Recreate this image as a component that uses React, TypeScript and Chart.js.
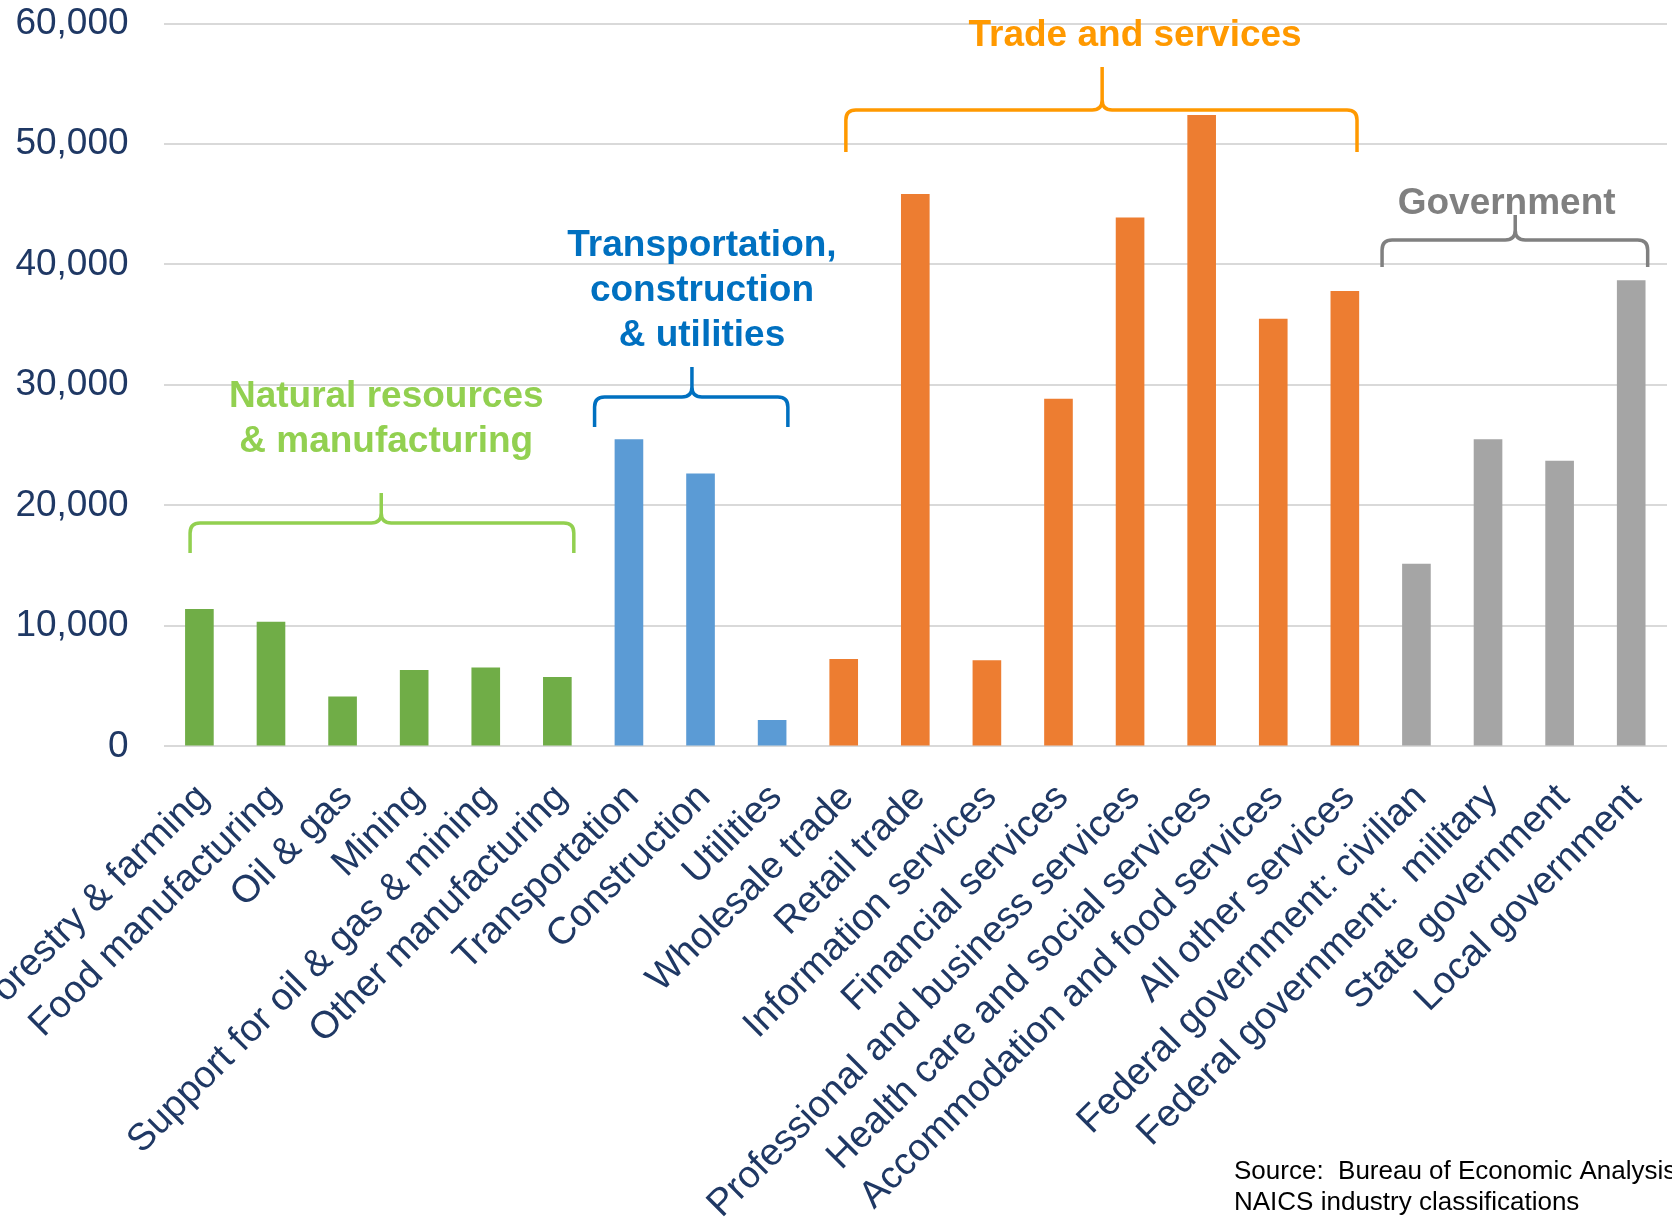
import React, { useEffect, useRef } from 'react';
import { Chart, registerables } from 'chart.js';

Chart.register(...registerables);

// ---------- data ----------
const categories: string[] = [
  'Forestry & farming',
  'Food manufacturing',
  'Oil & gas',
  'Mining',
  'Support for oil & gas & mining',
  'Other manufacturing',
  'Transportation',
  'Construction',
  'Utilities',
  'Wholesale trade',
  'Retail trade',
  'Information services',
  'Financial services',
  'Professional and business services',
  'Health care and social services',
  'Accommodation and food services',
  'All other services',
  'Federal government: civilian',
  'Federal government:  military',
  'State government',
  'Local government',
];

const values: number[] = [
  11400, 10350, 4150, 6350, 6550, 5750,
  25500, 22650, 2200,
  7250, 45850, 7150, 28850, 43900, 52400, 35500, 37800,
  15150, 25500, 23700, 38700,
];

const categoryGroup: string[] = [
  'nat', 'nat', 'nat', 'nat', 'nat', 'nat',
  'tcu', 'tcu', 'tcu',
  'trade', 'trade', 'trade', 'trade', 'trade', 'trade', 'trade', 'trade',
  'gov', 'gov', 'gov', 'gov',
];

const yTickValues: number[] = [0, 10000, 20000, 30000, 40000, 50000, 60000];

const groupKeys: string[] = ['nat', 'tcu', 'trade', 'gov'];
const groupTitles: string[][] = [
  ['Natural resources', '& manufacturing'],
  ['Transportation,', 'construction', '& utilities'],
  ['Trade and services'],
  ['Government'],
];

const sourceLines: string[] = [
  'Source:  Bureau of Economic Analysis',
  'NAICS industry classifications',
];

// ---------- styles ----------
const barColors: Record<string, string> = {
  nat: '#70AD47',
  tcu: '#5B9BD5',
  trade: '#ED7D31',
  gov: '#A5A5A5',
};
const titleColors: Record<string, string> = {
  nat: '#92D050',
  tcu: '#0070C0',
  trade: '#FF9900',
  gov: '#808080',
};

// brace geometry: x in category-index units, y in value units
const braceLayout: Record<string, { from: number; to: number; peak: number; level: number; end: number; top: number; textAt: number; textValue: number }> = {
  nat: { from: -0.13, to: 5.23, peak: 2.54, level: 18540, end: 16050, top: 21040, textAt: 2.61, textValue: 28150 },
  tcu: { from: 5.52, to: 8.22, peak: 6.88, level: 29000, end: 26510, top: 31490, textAt: 7.02, textValue: 40700 },
  trade: { from: 9.03, to: 16.17, peak: 12.61, level: 52820, end: 49330, top: 56390, textAt: 13.07, textValue: 58130 },
  gov: { from: 16.52, to: 20.23, peak: 18.38, level: 42030, end: 39790, top: 44110, textAt: 18.26, textValue: 44190 },
};

const FONT = "'Liberation Sans', Arial, Helvetica, sans-serif";
const W = 1672;
const H = 1218;

const bracePlugin = {
  id: 'groupBraces',
  afterDraw(chart: any) {
    const { ctx } = chart;
    const x = chart.scales.x;
    const y = chart.scales.y;
    ctx.save();
    groupKeys.forEach((key, gi) => {
      const b = braceLayout[key];
      const color = titleColors[key];
      const x1 = x.getPixelForValue(b.from);
      const x2 = x.getPixelForValue(b.to);
      const xm = x.getPixelForValue(b.peak);
      const yh = y.getPixelForValue(b.level);
      const ye = y.getPixelForValue(b.end);
      const yp = y.getPixelForValue(b.top);
      const r = 10;
      ctx.strokeStyle = color;
      ctx.lineWidth = 3.5;
      ctx.lineCap = 'butt';
      ctx.lineJoin = 'round';
      ctx.beginPath();
      ctx.moveTo(x1, ye);
      ctx.lineTo(x1, yh + r);
      ctx.quadraticCurveTo(x1, yh, x1 + r, yh);
      ctx.lineTo(xm - r, yh);
      ctx.quadraticCurveTo(xm, yh, xm, yh - r);
      ctx.lineTo(xm, yp);
      ctx.moveTo(xm, yh - r);
      ctx.quadraticCurveTo(xm, yh, xm + r, yh);
      ctx.lineTo(x2 - r, yh);
      ctx.quadraticCurveTo(x2, yh, x2, yh + r);
      ctx.lineTo(x2, ye);
      ctx.stroke();

      ctx.fillStyle = color;
      ctx.font = `bold 37px ${FONT}`;
      ctx.textAlign = 'center';
      ctx.textBaseline = 'alphabetic';
      const tx = x.getPixelForValue(b.textAt);
      const ty = y.getPixelForValue(b.textValue);
      groupTitles[gi].forEach((line, li) => {
        ctx.fillText(line, tx, ty + li * 45);
      });
    });

    ctx.fillStyle = '#000000';
    ctx.font = `26px ${FONT}`;
    ctx.textAlign = 'left';
    ctx.textBaseline = 'alphabetic';
    ctx.fillText(sourceLines[0], 1234, 1179);
    ctx.fillText(sourceLines[1], 1234, 1210);
    ctx.restore();
  },
};

export default function App() {
  const canvasRef = useRef<HTMLCanvasElement | null>(null);

  useEffect(() => {
    if (!canvasRef.current) return;
    const chart = new Chart(canvasRef.current, {
      type: 'bar',
      data: {
        labels: categories,
        datasets: [
          {
            data: values,
            backgroundColor: categoryGroup.map((g) => barColors[g]),
            borderWidth: 0,
            categoryPercentage: 1,
            barPercentage: 0.4,
          },
        ],
      },
      options: {
        animation: false,
        responsive: false,
        devicePixelRatio: 1,
        layout: { padding: { top: 23.5, right: 5, left: 0, bottom: 0 } },
        plugins: {
          legend: { display: false },
          tooltip: { enabled: false },
        },
        scales: {
          x: {
            grid: { display: false, drawTicks: false },
            border: { display: false },
            ticks: {
              autoSkip: false,
              minRotation: 45,
              maxRotation: 45,
              padding: 29,
              labelOffset: 4,
              color: '#1F3864',
              font: { family: FONT, size: 38 },
            },
            afterFit: (s: any) => {
              s.paddingLeft = 0;
              s.paddingRight = 0;
              s.height = H - 746.4;
            },
          },
          y: {
            min: 0,
            max: 60000,
            border: { display: false },
            grid: { color: '#D9D9D9', lineWidth: 2, drawTicks: false },
            ticks: {
              padding: 35,
              color: '#1F3864',
              font: { family: FONT, size: 37 },
              callback: (v: any) => Number(v).toLocaleString('en-US'),
            },
            afterBuildTicks: (s: any) => {
              s.ticks = yTickValues.map((v) => ({ value: v }));
            },
            afterFit: (s: any) => {
              s.width = 163.6;
              s.paddingTop = 0;
              s.paddingBottom = 0;
            },
          },
        },
      },
      plugins: [bracePlugin],
    });
    return () => chart.destroy();
  }, []);

  return (
    <div style={{ position: 'absolute', left: 0, top: 0, width: W, height: H, background: '#ffffff', overflow: 'hidden' }}>
      <canvas ref={canvasRef} width={W} height={H} style={{ width: W, height: H, display: 'block' }} />
    </div>
  );
}
